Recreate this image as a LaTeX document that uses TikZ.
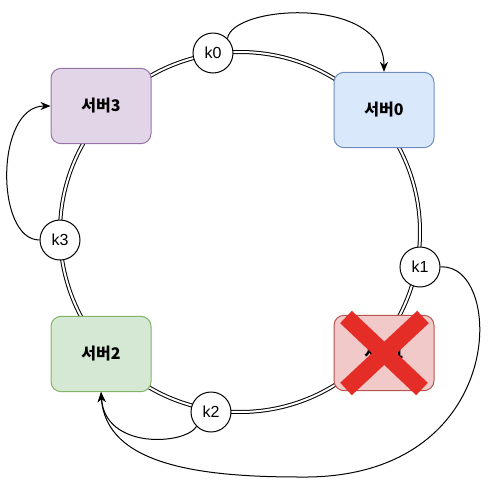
\documentclass[tikz,border=0pt]{standalone}
\usepackage{fontspec}
\setmainfont{Liberation Sans}
\newfontfamily\krfont{Noto Sans CJK KR}
\usetikzlibrary{arrows.meta}

\definecolor{blueFill}{HTML}{DAE8FC}
\definecolor{blueLine}{HTML}{6C8EBF}
\definecolor{purpleFill}{HTML}{E1D5E7}
\definecolor{purpleLine}{HTML}{9673A6}
\definecolor{greenFill}{HTML}{D5E8D4}
\definecolor{greenLine}{HTML}{82B366}
\definecolor{redFill}{HTML}{F0C9C8}
\definecolor{redLine}{HTML}{B85450}
\definecolor{crossRed}{HTML}{E52D27}

\begin{document}
\begin{tikzpicture}[
    x=0.75pt, y=-0.75pt,
    server/.style={rectangle,draw,line width=0.75pt,rounded corners=7.5pt,
      minimum width=75pt,minimum height=56.5pt,
      font=\krfont\bfseries\fontsize{12}{14}\selectfont},
    key/.style={circle,draw,fill=white,line width=0.75pt,inner sep=0pt,
      minimum size=30pt,font=\fontsize{12}{14}\selectfont},
    ring/.style={double,double distance=1.5pt,line width=0.75pt},
    link/.style={-{Stealth[length=7.5pt,width=6pt]},line width=0.75pt},
    cross/.style={draw=crossRed,line width=12.75pt}
    ]

    \useasboundingbox (0,0) rectangle (487,490);

    \coordinate (c) at (240,232);
    \draw[ring] (c) circle [radius=180];

    \node (s0) [server,fill=blueFill,draw=blueLine] at (384,110) {서버0};
    \node (s1) [server,fill=redFill,draw=redLine] at (384,353) {서버1};
    \node (s2) [server,fill=greenFill,draw=greenLine] at (101,354) {서버2};
    \node (s3) [server,fill=purpleFill,draw=purpleLine] at (101,106) {서버3};

    \draw[cross] (s1.center) ++(-38,-36) -- ++(76,72);
    \draw[cross] (s1.center) ++(39,-36) -- ++(-77,72);

    \node (k0) [key] at (213,53) {k0};
    \node (k1) [key] at (420,267) {k1};
    \node (k2) [key] at (211,412) {k2};
    \node (k3) [key] at (60,240) {k3};

    \draw[link] (k0.45) .. controls (232,5) and (384,-5) .. (s0.north);
    \draw[link] (k3.west) .. controls (-5,240) and (-5,106) .. (s3.west);
    \draw[link] (k2.south west) .. controls (185,445) and (105,450) .. (s2.south);
    \draw[link] (k1.east) .. controls (505,262) and (510,480) .. (300,477)
      .. controls (200,477) and (106,465) .. (s2.south);

  \end{tikzpicture}
\end{document}
